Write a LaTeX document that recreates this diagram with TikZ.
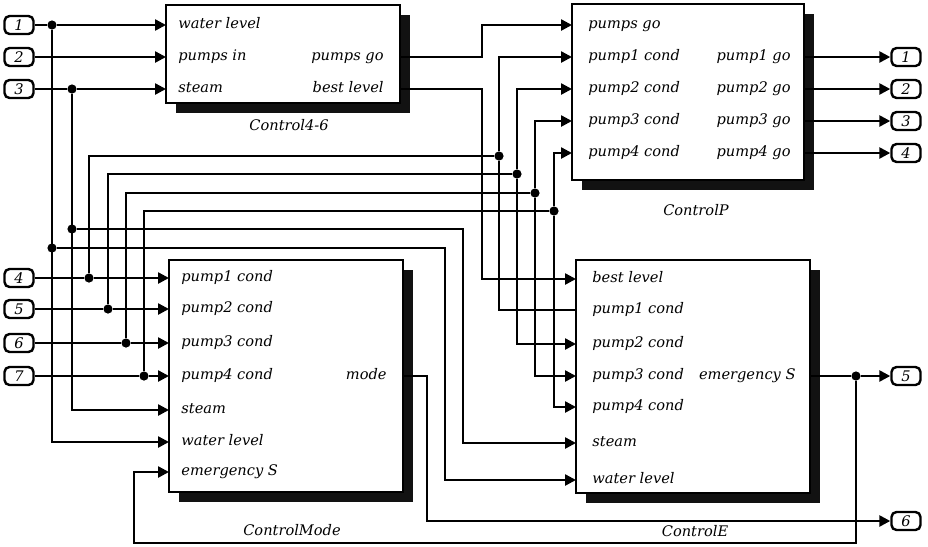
\documentclass[tikz,border=0pt]{standalone}
\usepackage{fontspec}
\setmainfont{DejaVu Serif}
\usepackage{tikz}
\usetikzlibrary{arrows.meta, positioning, calc, shadows}

\begin{document}
\begin{tikzpicture}[
    x=0.5pt, y=-0.5pt,
    every node/.style={font=\fontsize{7.3}{9}\selectfont\itshape},
    block/.style={rectangle, draw, line width=1.2pt, fill=white,
                  minimum width=117pt, inner sep=0pt, outer sep=0pt,
                  anchor=north west,
                  drop shadow={shadow xshift=5pt, shadow yshift=-5pt,
                               fill=black!93, opacity=1}},
    port/.style={rectangle, draw, rounded corners=2.5pt, line width=1.2pt,
                 minimum width=14.5pt, minimum height=9pt, inner sep=0pt},
    inlbl/.style={anchor=west, inner sep=0pt, text height=5.4pt, text depth=1.7pt},
    outlbl/.style={anchor=east, inner sep=0pt, text height=5.4pt, text depth=1.7pt},
    blkname/.style={inner sep=0pt},
    dot/.style={circle, fill, inner sep=0pt, minimum size=4.6pt},
    wire/.style={line width=1.25pt},
    arrow/.style={wire, -{Triangle[length=5.5pt, width=5.5pt]}}
]
\useasboundingbox (0,0) rectangle (928,547);

% Blocks
\node[block, minimum height=49pt] (c46) at (166,5) {};
\node[block, minimum height=88pt, minimum width=116pt] (cp) at (572,4) {};
\node[block, minimum height=116pt] (cm) at (169,260) {};
\node[block, minimum height=116.5pt] (ce) at (576,260) {};

\node[blkname, below=8pt of c46, xshift=3pt] (c46-name) {Control4-6};
\node[blkname, below=12pt of cp, xshift=4pt] (cp-name) {ControlP};
\node[blkname, below=16pt of cm, xshift=3pt] (cm-name) {ControlMode};
\node[blkname, below=16pt of ce, xshift=1pt] (ce-name) {ControlE};

% Control4-6 ports
\node[inlbl] (c46-wl) at ($(c46.north west)+(12,20)$) {water level};
\node[inlbl] (c46-pi) at ($(c46.north west)+(12,52)$) {pumps in};
\node[inlbl] (c46-st) at ($(c46.north west)+(12,84)$) {steam};
\node[outlbl] (c46-pg) at ($(c46.north east)+(-16,52)$) {pumps go};
\node[outlbl] (c46-bl) at ($(c46.north east)+(-16,84)$) {best level};

% ControlP ports
\node[inlbl] (cp-pg) at ($(cp.north west)+(16,21)$) {pumps go};
\node[inlbl] (cp-c1) at ($(cp.north west)+(16,53)$) {pump1 cond};
\node[inlbl] (cp-c2) at ($(cp.north west)+(16,85)$) {pump2 cond};
\node[inlbl] (cp-c3) at ($(cp.north west)+(16,117)$) {pump3 cond};
\node[inlbl] (cp-c4) at ($(cp.north west)+(16,149)$) {pump4 cond};
\node[outlbl] (cp-g1) at ($(cp.north east)+(-13,53)$) {pump1 go};
\node[outlbl] (cp-g2) at ($(cp.north east)+(-13,85)$) {pump2 go};
\node[outlbl] (cp-g3) at ($(cp.north east)+(-13,117)$) {pump3 go};
\node[outlbl] (cp-g4) at ($(cp.north east)+(-13,149)$) {pump4 go};

% ControlMode ports
\node[inlbl] (cm-c1) at ($(cm.north west)+(12,18)$) {pump1 cond};
\node[inlbl] (cm-c2) at ($(cm.north west)+(12,49)$) {pump2 cond};
\node[inlbl] (cm-c3) at ($(cm.north west)+(12,83)$) {pump3 cond};
\node[inlbl] (cm-c4) at ($(cm.north west)+(12,116)$) {pump4 cond};
\node[inlbl] (cm-st) at ($(cm.north west)+(12,150)$) {steam};
\node[inlbl] (cm-wl) at ($(cm.north west)+(12,182)$) {water level};
\node[inlbl] (cm-es) at ($(cm.north west)+(12,212)$) {emergency S};
\node[outlbl] (cm-mo) at ($(cm.north east)+(-16,116)$) {mode};

% ControlE ports
\node[inlbl] (ce-bl) at ($(ce.north west)+(16,19)$) {best level};
\node[inlbl] (ce-c1) at ($(ce.north west)+(16,50)$) {pump1 cond};
\node[inlbl] (ce-c2) at ($(ce.north west)+(16,84)$) {pump2 cond};
\node[inlbl] (ce-c3) at ($(ce.north west)+(16,116)$) {pump3 cond};
\node[inlbl] (ce-c4) at ($(ce.north west)+(16,147)$) {pump4 cond};
\node[inlbl] (ce-st) at ($(ce.north west)+(16,183)$) {steam};
\node[inlbl] (ce-wl) at ($(ce.north west)+(16,220)$) {water level};
\node[outlbl] (ce-es) at ($(ce.north east)+(-14,116)$) {emergency S};

% In and out terminals
\coordinate (lcol) at (19,0);
\coordinate (rcol) at (906,0);
\node[port] (in1) at (lcol |- c46-wl) {1};
\node[port] (in2) at (lcol |- c46-pi) {2};
\node[port] (in3) at (lcol |- c46-st) {3};
\node[port] (in4) at (lcol |- cm-c1) {4};
\node[port] (in5) at (lcol |- cm-c2) {5};
\node[port] (in6) at (lcol |- cm-c3) {6};
\node[port] (in7) at (lcol |- cm-c4) {7};
\node[port] (out1) at (rcol |- cp-g1) {1};
\node[port] (out2) at (rcol |- cp-g2) {2};
\node[port] (out3) at (rcol |- cp-g3) {3};
\node[port] (out4) at (rcol |- cp-g4) {4};
\node[port] (out5) at (rcol |- ce-es) {5};
\node[port] (out6) at ($(rcol |- ce.south)+(0,28)$) {6};

% Junctions
\node[dot] (j1a) at ($(in1)+(33,0)$) {};
\node[dot] (j1b) at ($(j1a)+(0,223)$) {};
\node[dot] (j3a) at ($(in3)+(53,0)$) {};
\node[dot] (j3b) at ($(j3a)+(0,140)$) {};
\node[dot] (j4) at ($(in4)+(70,0)$) {};
\node[dot] (j5) at ($(in5)+(89,0)$) {};
\node[dot] (j6) at ($(in6)+(107,0)$) {};
\node[dot] (j7) at ($(in7)+(125,0)$) {};
\node[dot] (jp1) at (499,156) {};
\node[dot] (jp2) at (517,174) {};
\node[dot] (jp3) at (535,193) {};
\node[dot] (jp4) at (554,211) {};
\node[dot] (je) at ($(out5)+(-50,0)$) {};

% water level and steam
\draw[wire] (in1) -- (j1a);
\draw[arrow] (j1a) -- (c46.west |- c46-wl);
\draw[arrow] (j1a) |- (cm.west |- cm-wl);
\draw[arrow] (j1b) -| ($(ce.west |- ce-wl)+(-131,0)$) -- (ce.west |- ce-wl);
\draw[arrow] (in2) -- (c46.west |- c46-pi);
\draw[wire] (in3) -- (j3a);
\draw[arrow] (j3a) -- (c46.west |- c46-st);
\draw[arrow] (j3a) |- (cm.west |- cm-st);
\draw[arrow] (j3b) -| ($(ce.west |- ce-st)+(-113,0)$) -- (ce.west |- ce-st);

% pump conditions
\draw[wire] (in4) -- (j4);
\draw[arrow] (j4) -- (cm.west |- cm-c1);
\draw[wire] (j4) |- (jp1);
\draw[arrow] (jp1) |- (cp.west |- cp-c1);
\draw[wire] (jp1) |- (ce.west |- ce-c1);
\draw[wire] (in5) -- (j5);
\draw[arrow] (j5) -- (cm.west |- cm-c2);
\draw[wire] (j5) |- (jp2);
\draw[arrow] (jp2) |- (cp.west |- cp-c2);
\draw[arrow] (jp2) |- (ce.west |- ce-c2);
\draw[wire] (in6) -- (j6);
\draw[arrow] (j6) -- (cm.west |- cm-c3);
\draw[wire] (j6) |- (jp3);
\draw[arrow] (jp3) |- (cp.west |- cp-c3);
\draw[arrow] (jp3) |- (ce.west |- ce-c3);
\draw[wire] (in7) -- (j7);
\draw[arrow] (j7) -- (cm.west |- cm-c4);
\draw[wire] (j7) |- (jp4);
\draw[arrow] (jp4) |- (cp.west |- cp-c4);
\draw[arrow] (jp4) |- (ce.west |- ce-c4);

% block outputs
\draw[arrow] (c46.east |- c46-pg) -| ($(cp.west |- cp-pg)+(-90,0)$) -- (cp.west |- cp-pg);
\draw[arrow] (c46.east |- c46-bl) -| ($(ce.west |- ce-bl)+(-94,0)$) -- (ce.west |- ce-bl);
\draw[arrow] (cp.east |- cp-g1) -- (out1);
\draw[arrow] (cp.east |- cp-g2) -- (out2);
\draw[arrow] (cp.east |- cp-g3) -- (out3);
\draw[arrow] (cp.east |- cp-g4) -- (out4);
\draw[arrow] (cm.east |- cm-mo) -- ++(24,0) |- (out6);
\draw[wire] (ce.east |- ce-es) -- (je);
\draw[arrow] (je) -- (out5);
\draw[arrow] (je) -- ($(je)+(0,167)$) -| ($(cm.west |- cm-es)+(-35,0)$) -- (cm.west |- cm-es);

\end{tikzpicture}
\end{document}
